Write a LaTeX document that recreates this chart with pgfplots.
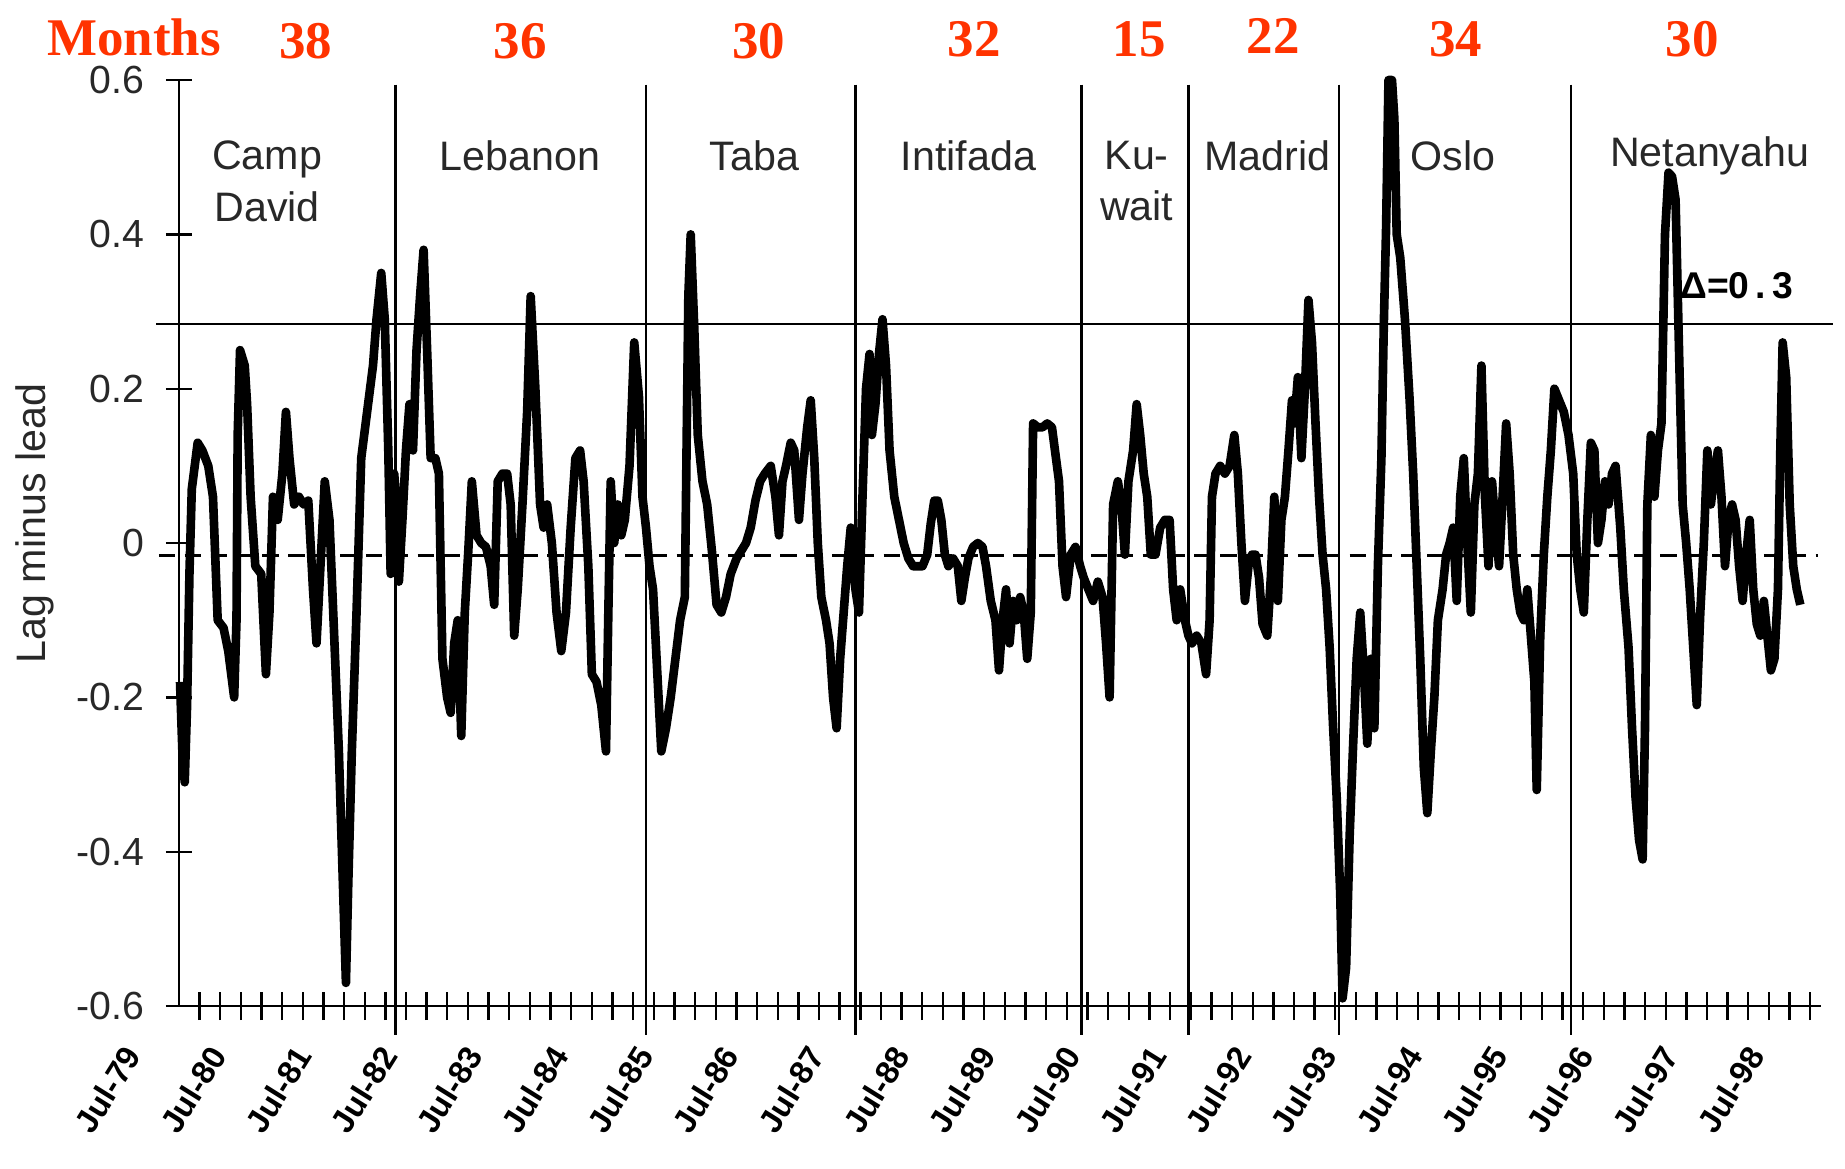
\documentclass[border=0pt]{standalone}
\usepackage{fontspec}
\setmainfont{Liberation Sans}
\newfontfamily\timesf{Liberation Serif}
\usepackage{pgfplots}
\pgfplotsset{compat=1.18}
\definecolor{monthred}{RGB}{255,51,0}
\definecolor{txtgray}{RGB}{40,40,40}
\begin{document}
\begin{tikzpicture}
\begin{axis}[
  scale only axis, width=418.8pt, height=236.1pt,
  xmin=152, xmax=1548, ymin=-0.6, ymax=0.6,
  axis x line=bottom, axis y line=left,
  axis line style={-, line width=0.6pt},
  clip=false,
  ytick={-0.6,-0.4,-0.2,0,0.2,0.4,0.6},
  yticklabels={-0.6,-0.4,-0.2,0,0.2,0.4,0.6},
  xtick={158.9,231.5,304.1,376.7,449.3,521.9,594.5,667.1,739.7,812.3,884.9,957.5,1030.1,1102.7,1175.3,1247.9,1320.5,1393.1,1465.7,1538.3},
  xticklabels={Jul-79,Jul-80,Jul-81,Jul-82,Jul-83,Jul-84,Jul-85,Jul-86,Jul-87,Jul-88,Jul-89,Jul-90,Jul-91,Jul-92,Jul-93,Jul-94,Jul-95,Jul-96,Jul-97,Jul-98},
  minor xtick={169.55,187.1,...,1539},
  tick align=center,
  major tick length=6.6pt, minor tick length=7.2pt,
  every major x tick/.append style={draw=none},
  tick style={black, line width=0.6pt},
  yticklabel style={font=\fontsize{10}{12}\selectfont, text=txtgray, xshift=-2pt},
  xticklabel style={font=\bfseries\fontsize{8.3}{10}\selectfont, xshift=-16.5pt, yshift=-6pt, rotate=58, anchor=north east, inner sep=0pt},
  ylabel={Lag minus lead},
  ylabel style={at={(axis description cs:-0.0874,0.521)}, anchor=center, font=\fontsize{10.5}{12}\selectfont, text=txtgray},
]
% separators
\foreach \xs in {336,549,727,919,1010,1138,1335}{
  \edef\tmp{\noexpand\draw[line width=0.6pt] (axis cs:\xs,0.594) -- (axis cs:\xs,-0.638);}\tmp
}
% threshold and mean lines
\draw[line width=0.6pt] (axis cs:133,0.284) -- (axis cs:1558,0.284);
\draw[line width=0.8pt, dash pattern=on 4.2pt off 2.4pt] (axis cs:135,-0.016) -- (axis cs:1545,-0.016);

\addplot[black, line width=2.2pt, line join=round] coordinates {
(153,-0.18)(155,-0.27)(157,-0.31)(159,-0.21)(161,-0.04)(163,0.07)(168,0.13)(172,0.12)(177,0.10)(181,0.06)(185,-0.10)(190,-0.11)(194,-0.14)(199,-0.20)(201,-0.10)(202,0.14)(204,0.25)(208,0.23)(210,0.18)(213,0.06)(217,-0.03)(222,-0.04)(226,-0.17)(229,-0.09)(232,0.06)(236,0.03)(240,0.09)(243,0.17)(246,0.11)(250,0.05)(254,0.06)(258,0.05)(262,0.055)(266,-0.06)(269,-0.13)(273,-0.01)(276,0.08)(280,0.03)(284,-0.12)(288,-0.27)(291,-0.42)(294,-0.57)(296,-0.44)(299,-0.27)(303,-0.09)(307,0.11)(312,0.17)(317,0.23)(320,0.29)(324,0.35)(327,0.29)(330,0.12)(332,-0.04)(335,0.09)
(337,0.05)(339,-0.05)(342,0.03)(345,0.12)(348,0.18)(351,0.12)(354,0.25)(357,0.32)(360,0.38)(363,0.25)(366,0.11)(370,0.11)(373,0.09)(376,-0.15)(380,-0.2)(383,-0.22)(386,-0.13)(389,-0.10)(392,-0.25)(395,-0.09)(398,-0.01)(401,0.08)(405,0.01)(409,0.00)(413,-0.005)(417,-0.03)(420,-0.08)(423,0.08)(427,0.09)(431,0.09)(434,0.05)(437,-0.12)(440,-0.06)(444,0.05)(448,0.17)(451,0.32)(455,0.2)(459,0.05)(462,0.02)(465,0.05)(469,0.0)(473,-0.09)(477,-0.14)(481,-0.09)(485,0.02)(489,0.11)(493,0.12)(496,0.08)(500,-0.03)(503,-0.17)(507,-0.18)(511,-0.21)(515,-0.27)(517,-0.09)(519,0.08)(522,0.0)(525,0.05)(528,0.01)(531,0.03)(535,0.10)(539,0.26)(543,0.19)(546,0.06)(549,0.02)
(552,-0.03)(555,-0.06)(558,-0.15)(562,-0.27)(566,-0.24)(570,-0.2)(574,-0.15)(578,-0.1)(582,-0.07)(585,0.32)(587,0.40)(590,0.28)(593,0.14)(597,0.08)(601,0.05)(605,-0.01)(609,-0.08)(613,-0.09)(617,-0.07)(621,-0.04)(626,-0.02)(630,-0.01)(634,0.0)(638,0.02)(642,0.055)(646,0.08)(650,0.09)(655,0.10)(659,0.06)(662,0.01)(665,0.08)(668,0.10)(672,0.13)(675,0.12)(679,0.03)(682,0.09)(686,0.15)(689,0.185)(692,0.11)(695,0.0)(698,-0.07)(702,-0.1)(705,-0.13)(708,-0.2)(711,-0.24)(714,-0.15)(717,-0.09)(720,-0.03)(723,0.02)(727,-0.06)
(730,-0.09)(733,0.06)(736,0.2)(739,0.245)(741,0.14)(744,0.18)(747,0.245)(750,0.29)(753,0.23)(756,0.12)(760,0.06)(764,0.03)(768,0.0)(772,-0.02)(776,-0.03)(780,-0.03)(784,-0.03)(788,-0.015)(791,0.025)(794,0.055)(797,0.055)(800,0.03)(803,-0.015)(806,-0.03)(810,-0.02)(814,-0.03)(817,-0.075)(820,-0.045)(823,-0.02)(827,-0.005)(831,0.0)(835,-0.005)(838,-0.03)(842,-0.075)(846,-0.1)(849,-0.165)(852,-0.1)(855,-0.06)(858,-0.13)(861,-0.075)(864,-0.1)(867,-0.07)(870,-0.09)(873,-0.15)(876,-0.09)(878,0.155)(882,0.15)(886,0.15)(890,0.155)(894,0.15)(897,0.115)(900,0.08)(903,-0.03)(906,-0.07)(910,-0.015)(914,-0.005)(918,-0.03)
(921,-0.045)(925,-0.06)(929,-0.075)(933,-0.05)(937,-0.07)(940,-0.13)(943,-0.2)(946,0.05)(950,0.08)(953,0.05)(956,-0.015)(959,0.08)(963,0.12)(966,0.18)(969,0.14)(972,0.09)(975,0.06)(978,-0.015)(982,-0.015)(986,0.02)(990,0.03)(994,0.03)(997,-0.06)(1000,-0.1)(1003,-0.06)(1007,-0.1)(1010,-0.12)
(1013,-0.13)(1017,-0.12)(1021,-0.13)(1025,-0.17)(1028,-0.1)(1030,0.06)(1033,0.09)(1037,0.10)(1041,0.09)(1045,0.10)(1049,0.14)(1052,0.09)(1055,0.0)(1058,-0.075)(1061,-0.03)(1064,-0.015)(1067,-0.015)(1070,-0.045)(1073,-0.105)(1077,-0.12)(1080,-0.045)(1083,0.06)(1086,-0.075)(1089,0.03)(1092,0.06)(1095,0.12)(1098,0.185)(1100,0.155)(1103,0.215)(1106,0.11)(1109,0.2)(1112,0.315)(1115,0.26)(1118,0.155)(1121,0.06)(1124,-0.015)(1127,-0.06)(1130,-0.135)(1133,-0.24)(1136,-0.33)(1139,-0.455)(1141,-0.59)
(1144,-0.55)(1147,-0.38)(1150,-0.26)(1153,-0.15)(1156,-0.09)(1159,-0.165)(1162,-0.26)(1165,-0.15)(1168,-0.24)(1171,-0.03)(1174,0.11)(1176,0.28)(1178,0.41)(1180,0.6)(1183,0.6)(1185,0.55)(1187,0.40)(1190,0.37)(1194,0.29)(1198,0.185)(1201,0.09)(1204,-0.03)(1207,-0.15)(1210,-0.29)(1213,-0.35)(1216,-0.27)(1219,-0.2)(1222,-0.1)(1226,-0.06)(1229,-0.015)(1232,0.0)(1235,0.02)(1238,-0.075)(1241,0.06)(1244,0.11)(1247,0.0)(1250,-0.09)(1253,0.05)(1256,0.09)(1259,0.23)(1262,0.06)(1265,-0.03)(1268,0.08)(1271,0.02)(1274,-0.03)(1277,0.06)(1280,0.155)(1283,0.09)(1286,-0.015)(1289,-0.06)(1292,-0.09)(1295,-0.1)(1298,-0.06)(1301,-0.12)(1304,-0.18)(1306,-0.32)(1309,-0.12)(1312,-0.015)(1315,0.06)(1318,0.12)(1321,0.2)(1325,0.185)(1329,0.17)(1333,0.14)
(1337,0.09)(1340,-0.015)(1343,-0.06)(1346,-0.09)(1349,0.03)(1352,0.13)(1355,0.12)(1358,0.0)(1361,0.03)(1364,0.08)(1367,0.05)(1370,0.09)(1373,0.10)(1377,0.02)(1380,-0.06)(1384,-0.135)(1387,-0.24)(1390,-0.33)(1393,-0.385)(1396,-0.41)(1398,-0.24)(1400,0.05)(1403,0.14)(1406,0.06)(1409,0.12)(1412,0.155)(1415,0.40)(1418,0.48)(1421,0.475)(1424,0.445)(1427,0.245)(1430,0.05)(1433,0.0)(1436,-0.06)(1439,-0.135)(1442,-0.21)(1445,-0.09)(1448,0.0)(1451,0.12)(1454,0.05)(1457,0.09)(1460,0.12)(1463,0.06)(1466,-0.03)(1469,0.03)(1472,0.05)(1475,0.03)(1478,-0.03)(1481,-0.075)(1484,-0.015)(1487,0.03)(1490,-0.06)(1493,-0.105)(1496,-0.12)(1499,-0.075)(1502,-0.12)(1505,-0.165)(1508,-0.15)(1511,-0.06)(1513,0.12)(1515,0.26)(1518,0.215)(1521,0.05)(1524,-0.03)(1527,-0.06)(1530,-0.08)
};

% month counts
\begin{scope}[every node/.style={font=\timesf\bfseries\fontsize{13.5}{15}\selectfont, text=monthred, inner sep=0pt}]
\node at (axis cs:114,0.655) {Months};
\node at (axis cs:260,0.650) {38};
\node at (axis cs:442,0.650) {36};
\node at (axis cs:645,0.650) {30};
\node at (axis cs:828,0.653) {32};
\node at (axis cs:968,0.653) {15};
\node at (axis cs:1082,0.657) {22};
\node at (axis cs:1237,0.653) {34};
\node at (axis cs:1438,0.653) {30};
\end{scope}
% period names
\begin{scope}[every node/.style={font=\fontsize{10.5}{13.2}\selectfont, text=txtgray, align=center, inner sep=0pt}]
\node at (axis cs:227,0.469) {Camp\\David};
\node at (axis cs:442,0.502) {Lebanon};
\node at (axis cs:641,0.502) {Taba};
\node at (axis cs:823,0.502) {Intifada};
\node at (axis cs:966,0.469) {Ku-\\wait};
\node at (axis cs:1077,0.502) {Madrid};
\node at (axis cs:1235,0.502) {Oslo};
\node at (axis cs:1453,0.502) {Netanyahu};
\end{scope}
\node[font=\bfseries\fontsize{9.5}{11}\selectfont, inner sep=0pt] at (axis cs:1476,0.333) {Δ=0\,.\,3};
\end{axis}
\path (-45.6pt,-41.4pt) rectangle (424.8pt,256.5pt);
\end{tikzpicture}
\end{document}
